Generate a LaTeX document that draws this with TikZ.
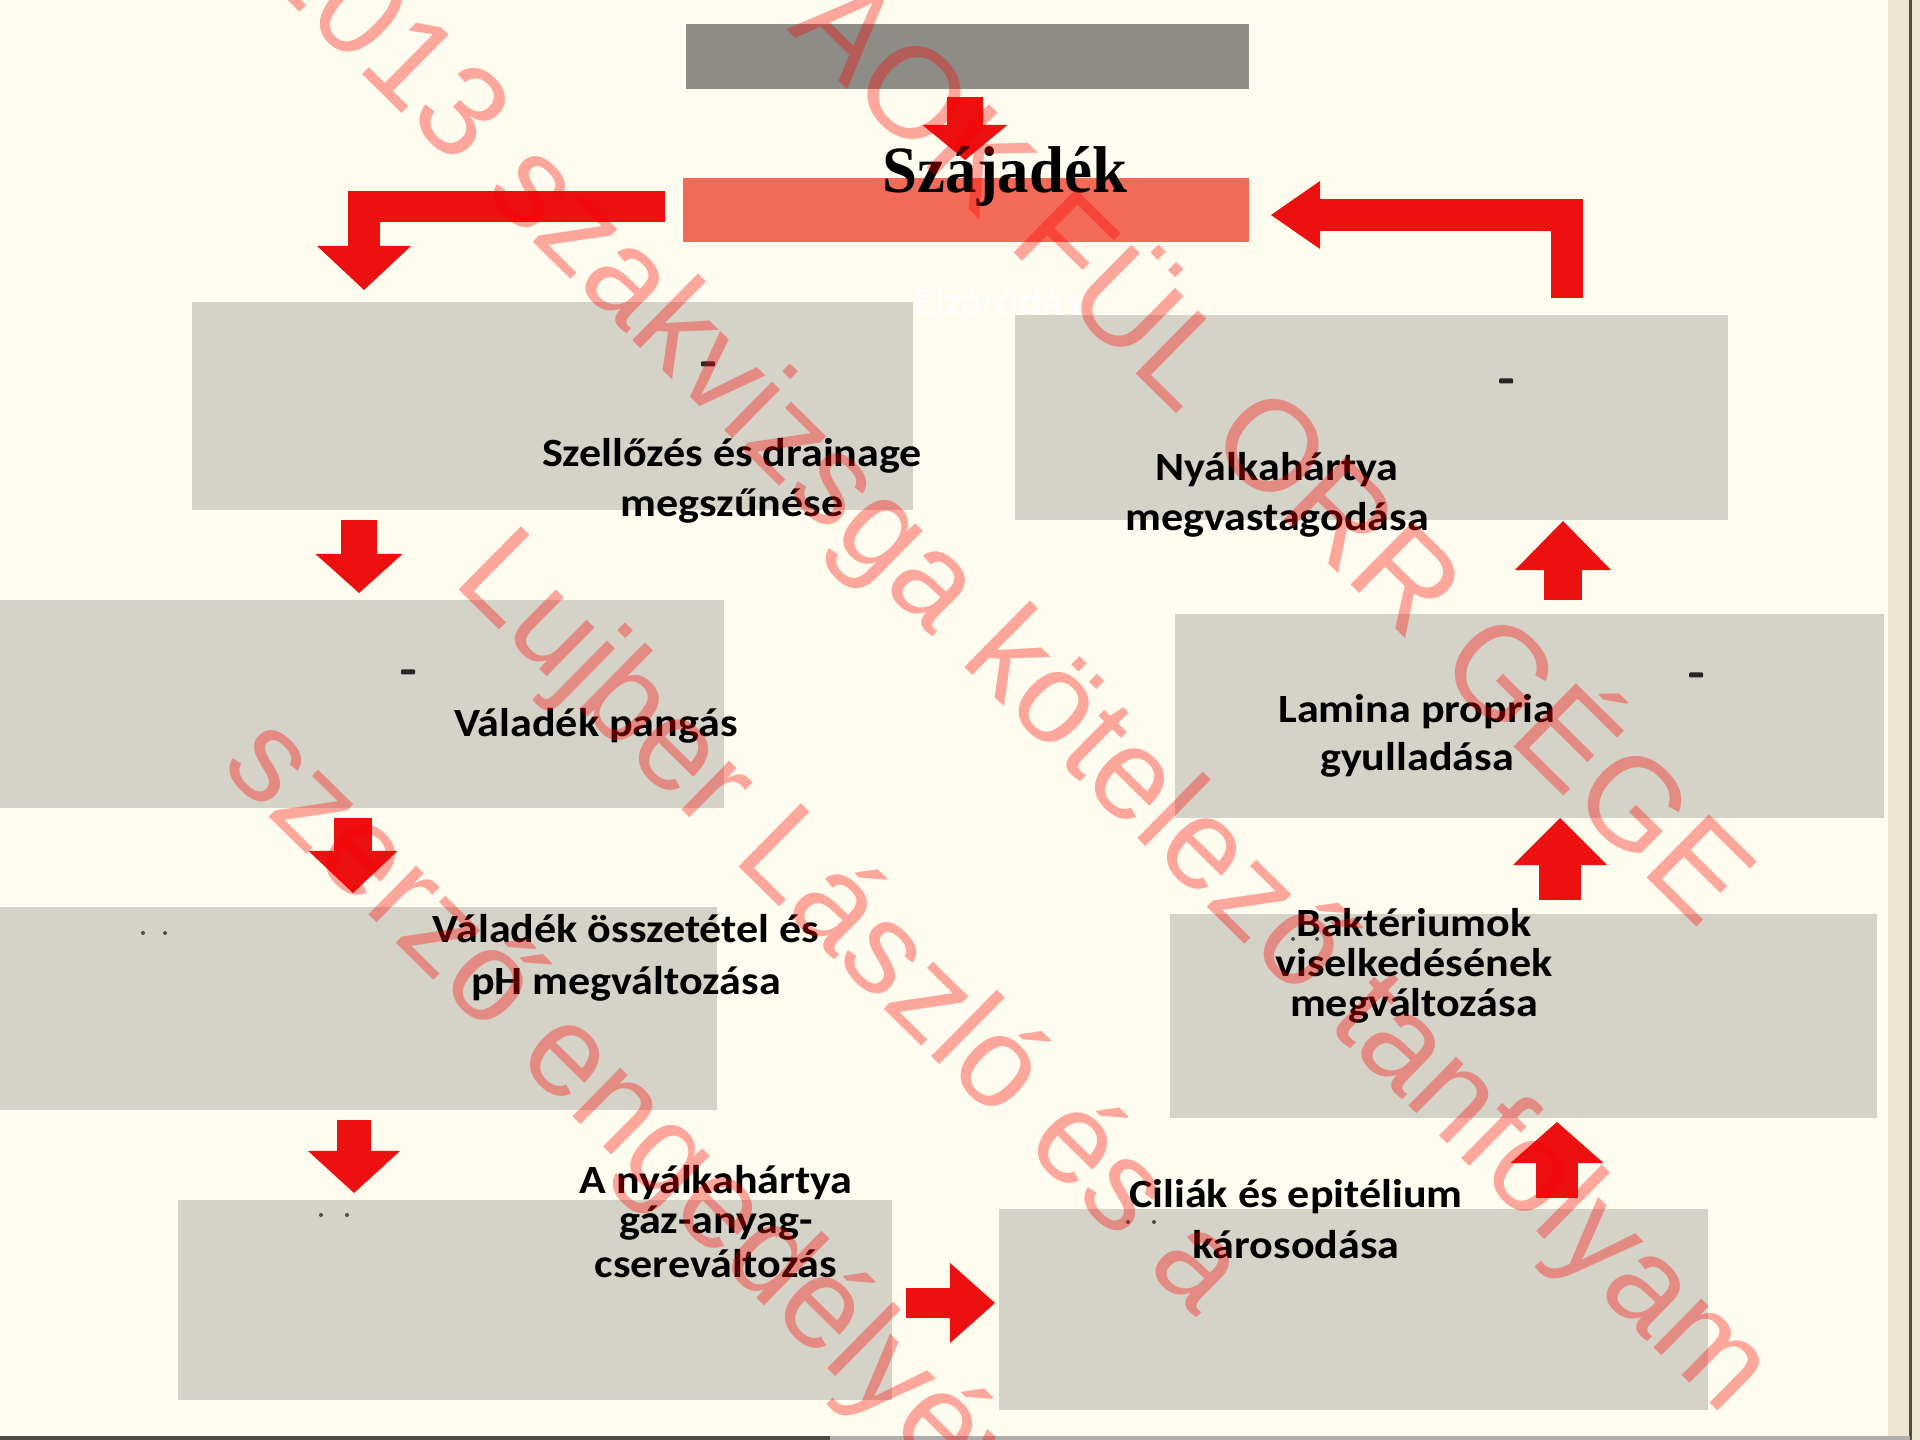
\documentclass[tikz,border=0pt]{standalone}
\usepackage{fontspec}
\setmainfont{Liberation Serif}
\newfontfamily\lblfont[FakeStretch=1.1]{Carlito}
\newfontfamily\wmfont{Liberation Sans}
\newfontfamily\ttlfont[FakeStretch=0.95]{Liberation Serif}
\usetikzlibrary{arrows.meta}
\definecolor{bgc}{RGB}{253,252,238}
\definecolor{boxgray}{RGB}{213,210,199}
\definecolor{topgray}{RGB}{142,140,134}
\definecolor{salmon}{RGB}{243,106,88}
\definecolor{ared}{RGB}{236,16,16}
\definecolor{margin}{RGB}{236,230,208}
\definecolor{edge}{RGB}{80,75,70}
\tikzset{
  gbox/.style={fill=boxgray, draw=none, inner sep=0pt, outer sep=0pt, anchor=north west},
  lbl/.style={font={\lblfont\bfseries\fontsize{11.4}{#1}\selectfont}, align=center, inner sep=0pt, anchor=north, text=black},
  blk/.style n args={3}{draw=ared, line width=#1, line cap=butt, line join=miter,
     -{Triangle[width=#2, length=#3, line width=0pt]}},
  wm/.style={font={\wmfont\fontsize{36.7}{40}\selectfont}, text=red, text opacity=0.34, inner sep=0pt, rotate=-44.6},
  speck/.style={fill=black!85}
}
\begin{document}
\begin{tikzpicture}[x=0.01cm, y=-0.01cm]
\useasboundingbox (0,0) rectangle (1920,1440);
\fill[bgc] (0,0) rectangle (1920,1440);
\fill[margin] (1888,0) rectangle (1920,1440);
\draw[edge, line width=0.3mm] (1910,0) -- (1910,1440);
\draw[edge, line width=0.35mm] (0,1438) -- (830,1438);
\draw[edge!45, line width=0.3mm] (830,1438) -- (1910,1438);

% boxes
\node[gbox, fill=topgray, minimum width=5.63cm, minimum height=0.65cm] (T) at (686,24) {};
\node[gbox, fill=salmon, minimum width=5.66cm, minimum height=0.64cm] (S) at (683,178) {};
\node[gbox, minimum width=7.21cm, minimum height=2.08cm] (L1) at (192,302) {};
\node[gbox, minimum width=7.13cm, minimum height=2.05cm] (R1) at (1015,315) {};
\node[gbox, minimum width=7.24cm, minimum height=2.08cm] (L2) at (0,600) {};
\node[gbox, minimum width=7.09cm, minimum height=2.04cm] (R2) at (1175,614) {};
\node[gbox, minimum width=7.17cm, minimum height=2.03cm] (L3) at (0,907) {};
\node[gbox, minimum width=7.07cm, minimum height=2.04cm] (R3) at (1170,914) {};
\node[gbox, minimum width=7.14cm, minimum height=2.00cm] (L4) at (178,1200) {};
\node[gbox, minimum width=7.09cm, minimum height=2.01cm] (R4) at (999,1209) {};

% specks
\foreach \x/\y in {708/364, 1506/381, 408/672, 1696/675}
  \fill[speck, rounded corners=0.1mm] (\x-7,\y-2.5) rectangle (\x+7,\y+2.5);
\foreach \x/\y in {143/933, 165/933, 321/1215, 347/1215, 1128/1222, 1154/1222, 1293/939, 1317/939}
  \fill[black!70] (\x,\y) circle (2);

% connectors
\coordinate (a0s) at (965,97);   \coordinate (a0e) at (965,160);
\coordinate (alS) at (665,207);  \coordinate (alE) at (364,290);
\coordinate (arS) at (1567,298); \coordinate (arE) at (1271,215);
\coordinate (a1s) at (359,520);  \coordinate (a1e) at (359,593);
\coordinate (a2s) at (353,818);  \coordinate (a2e) at (353,893);
\coordinate (a3s) at (354,1120); \coordinate (a3e) at (354,1193);
\coordinate (a4s) at (906,1303); \coordinate (a4e) at (995,1303);
\coordinate (a5s) at (1557,1198);\coordinate (a5e) at (1557,1122);
\coordinate (a6s) at (1560,900); \coordinate (a6e) at (1560,818);
\coordinate (a7s) at (1563,600); \coordinate (a7e) at (1563,521);

\draw[blk={3.6mm}{8.5mm}{3.5mm}] (a0s) -- (a0e);
\draw[blk={3.1mm}{9.4mm}{4.4mm}] (alS) -| (alE);
\draw[blk={3.2mm}{6.8mm}{4.9mm}] (arS) |- (arE);
\draw[blk={3.6mm}{8.7mm}{3.9mm}] (a1s) -- (a1e);
\draw[blk={3.7mm}{8.9mm}{4.2mm}] (a2s) -- (a2e);
\draw[blk={3.4mm}{9.2mm}{4.2mm}] (a3s) -- (a3e);
\draw[blk={3.0mm}{8.0mm}{4.5mm}] (a4s) -- (a4e);
\draw[blk={4.1mm}{9.3mm}{4.1mm}] (a5s) -- (a5e);
\draw[blk={4.1mm}{9.4mm}{4.7mm}] (a6s) -- (a6e);
\draw[blk={3.8mm}{9.6mm}{4.9mm}] (a7s) -- (a7e);

% titles
\node[font={\ttlfont\bfseries\fontsize{18.8}{20}\selectfont}, inner sep=0pt, anchor=base] (title) at (1005,193) {Szájadék};
\node[font={\lblfont\fontsize{11.2}{13}\selectfont}, text=white, inner sep=0pt, anchor=base] (elz) at (997,315) {Elzáródás};

% labels
\node[lbl=14.2] (t1) at (732,431) {\strut Szellőzés és drainage\\\strut megszűnése};
\node[lbl=14.2] (t2) at (1277,445) {\strut Nyálkahártya\\\strut megvastagodása};
\node[lbl=14.2] (t3) at (596,701) {\strut Váladék pangás};
\node[lbl=13.7] (t4) at (1417,688) {\strut Lamina propria\\\strut gyulladása};
\node[lbl=14.8] (t5) at (626,905) {\strut Váladék összetétel és\\\strut pH megváltozása};
\node[lbl=11.5] (t6) at (1414,907) {\strut Baktériumok\\\strut viselkedésének\\\strut megváltozása};
\node[lbl=11.4] (t7) at (716,1165) {\strut A nyálkahártya\\\strut gáz-anyag-\\\strut csereváltozás};
\node[lbl=14.5] (t8) at (1296,1171) {\strut Ciliák és epitélium\\\strut károsodása};

% watermark
\node[wm, anchor=base east] (w0) at (1701,931) {ÁOK FÜL ORR GÉGE};
\node[wm, anchor=base] (w1) at (989,692) {2013 szakvizsga kötelező tanfolyam};
\node[wm, anchor=base] (w2) at (824,950) {Lujber László és a};
\node[wm, anchor=base] (w3) at (638,1181) {szerző engedélyével};
\end{tikzpicture}
\end{document}
